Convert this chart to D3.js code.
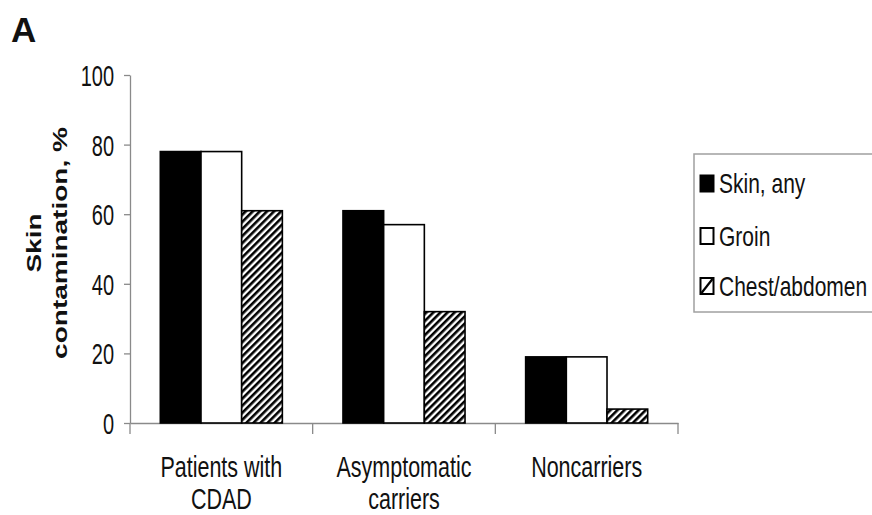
<!DOCTYPE html>
<html>
<head>
<meta charset="utf-8">
<script src="https://cdn.jsdelivr.net/npm/d3@7/dist/d3.min.js"></script>
<style>
  html, body { margin: 0; padding: 0; background: #fff; }
  svg { display: block; }
  text { font-family: "Liberation Sans", Arial, sans-serif; fill: #111; }
</style>
</head>
<body>
<svg id="chart" width="872" height="515"></svg>
<script>
// Groups on the x axis (each label split into its printed lines)
const categories = ["Patients with CDAD", "Asymptomatic carriers", "Noncarriers"];
const categoryLines = [["Patients with", "CDAD"], ["Asymptomatic", "carriers"], ["Noncarriers"]];

// Series: share of patients with skin contamination, %
const seriesNames = ["Skin, any", "Groin", "Chest/abdomen"];
const skinAny = [78, 61, 19];
const groin = [78, 57, 19];
const chestAbdomen = [61, 32, 4];
const seriesValues = [skinAny, groin, chestAbdomen];

// Y axis ticks
const yTicks = [0, 20, 40, 60, 80, 100];

const svg = d3.select("#chart");

// Hatch pattern for the chest/abdomen series
const defs = svg.append("defs");
const tile = 5.0;
defs.append("pattern")
  .attr("id", "hatch")
  .attr("patternUnits", "userSpaceOnUse")
  .attr("width", tile)
  .attr("height", tile)
  .attr("patternTransform", "rotate(45)")
  .call(p => {
    p.append("rect").attr("width", tile).attr("height", tile).attr("fill", "#fff");
    p.append("rect").attr("x", 0).attr("width", tile * 0.52).attr("height", tile).attr("fill", "#000");
  });

const fills = ["#000", "#fff", "url(#hatch)"];

const plot = { left: 130, right: 678, top: 75, bottom: 423 };

const x = d3.scaleBand().domain(categories).range([plot.left, plot.right]).paddingInner(0).paddingOuter(0);
const x1 = d3.scaleBand().domain(seriesNames).range([0, x.bandwidth()]).paddingInner(0).paddingOuter(0.745);
const y = d3.scaleLinear().domain([0, 100]).range([plot.bottom, plot.top]);

const axisColor = "#8a8a8a";

// Y axis
const yAxis = svg.append("g")
  .attr("transform", `translate(${plot.left},0)`)
  .call(d3.axisLeft(y).tickValues(yTicks).tickSize(6).tickSizeOuter(0).tickFormat(d3.format("d")));
yAxis.select(".domain").attr("stroke", axisColor).attr("stroke-width", 1.3);
yAxis.selectAll(".tick line").attr("stroke", axisColor).attr("stroke-width", 1.3);
yAxis.selectAll(".tick text")
  .attr("x", 0).attr("dy", null)
  .attr("transform", "translate(-16,0) scale(1,1.45)")
  .attr("dominant-baseline", "central")
  .style("font-size", "20px")
  .style("font-family", "'Liberation Sans', Arial, sans-serif")
  .attr("fill", "#111");

// X axis: baseline with ticks at group boundaries
const xAxis = svg.append("g").attr("transform", `translate(0,${plot.bottom})`)
  .call(d3.axisBottom(x).tickValues([]).tickSizeOuter(0));
xAxis.select(".domain").attr("stroke", axisColor).attr("stroke-width", 1.3);
const boundaries = categories.map(c => x(c)).concat([x(categories[categories.length - 1]) + x.bandwidth()]);
xAxis.selectAll("line.bound").data(boundaries).join("line")
  .attr("class", "bound")
  .attr("x1", d => d).attr("x2", d => d)
  .attr("y1", 0).attr("y2", 11)
  .attr("stroke", axisColor).attr("stroke-width", 1.3);

// Bars
const groups = svg.append("g").selectAll("g")
  .data(categories)
  .join("g")
  .attr("transform", d => `translate(${x(d)},0)`);

groups.selectAll("rect")
  .data((c, i) => seriesNames.map((s, j) => ({ series: s, j, value: seriesValues[j][i] })))
  .join("rect")
  .attr("x", d => x1(d.series))
  .attr("y", d => y(d.value))
  .attr("width", x1.bandwidth())
  .attr("height", d => y(0) - y(d.value))
  .attr("fill", d => fills[d.j])
  .attr("stroke", "#000")
  .attr("stroke-width", 1.6);

// Category labels
const catLabels = svg.append("g");
categories.forEach((c, i) => {
  const cx = x(c) + x.bandwidth() / 2;
  categoryLines[i].forEach((line, k) => {
    catLabels.append("text")
      .attr("transform", `translate(${cx},${477 + k * 32}) scale(1,1.4)`)
      .attr("text-anchor", "middle")
      .style("font-size", "21.5px")
      .text(line);
  });
});

// Y axis title (two lines, rotated)
const yTitle = ["Skin", "contamination, %"];
yTitle.forEach((line, k) => {
  svg.append("text")
    .attr("transform", `translate(${41 + k * 26},243) rotate(-90) scale(1.4,1)`)
    .attr("text-anchor", "middle")
    .style("font-size", "20px")
    .style("font-weight", "bold")
    .text(line);
});

// Panel letter
svg.append("text")
  .attr("x", 11).attr("y", 42)
  .style("font-size", "35px")
  .style("font-weight", "bold")
  .text("A");

// Legend
const legend = svg.append("g");
legend.append("rect")
  .attr("x", 694).attr("y", 154)
  .attr("width", 200).attr("height", 158)
  .attr("fill", "#fff")
  .attr("stroke", "#a0a0a0")
  .attr("stroke-width", 1.5);

const rowY = [183.5, 236, 286];
seriesNames.forEach((name, j) => {
  const g = legend.append("g").attr("transform", `translate(700,${rowY[j]})`);
  g.append("rect")
    .attr("x", 0.5).attr("y", -8)
    .attr("width", 13).attr("height", 16)
    .attr("fill", j === 0 ? "#000" : "#fff")
    .attr("stroke", "#000")
    .attr("stroke-width", 2);
  if (j === 2) {
    g.append("line")
      .attr("x1", 1.5).attr("y1", 7).attr("x2", 12.5).attr("y2", -7)
      .attr("stroke", "#000").attr("stroke-width", 2.2);
  }
  g.append("text")
    .attr("transform", "translate(19,0) scale(1,1.32)")
    .attr("dominant-baseline", "central")
    .style("font-size", "21px")
    .text(name);
});
</script>
</body>
</html>
